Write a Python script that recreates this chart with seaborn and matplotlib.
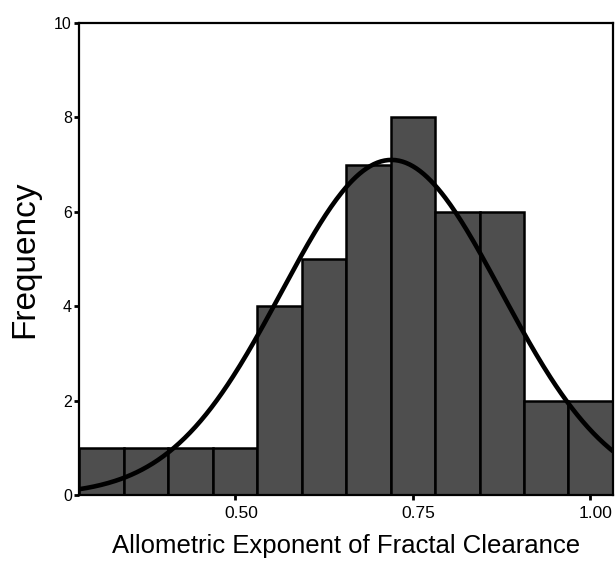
import numpy as np
import pandas as pd
import matplotlib
matplotlib.use("Agg")
import matplotlib.pyplot as plt
import matplotlib.transforms as mtransforms
import seaborn as sns

# Данные гистограммы
bin_start = 0.28
bin_width = 0.0627
counts = [1, 1, 1, 1, 4, 5, 7, 8, 6, 6, 2, 2]

# Параметры нормальной кривой
fit_mean = 0.72
fit_sd = 0.155

x_ticks = [0.50, 0.75, 1.00]
x_tick_labels = ["0.50", "0.75", "1.00"]
y_ticks = [0, 2, 4, 6, 8, 10]

edges = bin_start + bin_width * np.arange(len(counts) + 1)
centers = (edges[:-1] + edges[1:]) / 2
df = pd.DataFrame({"x": centers, "n": counts})

sns.set_style("white")
plt.rcParams['font.family'] = ['Liberation Sans', 'DejaVu Sans']
plt.rcParams['text.color'] = 'black'
plt.rcParams['axes.labelcolor'] = 'black'
plt.rcParams['xtick.color'] = 'black'
plt.rcParams['ytick.color'] = 'black'

fig = plt.figure(figsize=(6.16, 5.62), dpi=100)
ax = fig.add_axes([0.129, 0.119, 0.866, 0.840])

sns.histplot(data=df, x="x", weights="n", bins=edges.tolist(), ax=ax,
             color="#4e4e4e", edgecolor="black", linewidth=1.8, alpha=1)

# Нормальная кривая
xs = np.linspace(edges[0], edges[-1], 300)
total = sum(counts)
ys = total * bin_width / (fit_sd * np.sqrt(2 * np.pi)) * np.exp(-(xs - fit_mean) ** 2 / (2 * fit_sd ** 2))
sns.lineplot(x=xs, y=ys, ax=ax, color="black", linewidth=3.3)

ax.set_xlim(edges[0], edges[-1])
ax.set_ylim(0, 10)
ax.set_xticks(x_ticks)
ax.set_xticklabels(x_tick_labels, fontsize=12.5)
ax.set_yticks(y_ticks)
ax.set_yticklabels([str(v) for v in y_ticks], fontsize=11.5)
ax.tick_params(axis="both", direction="out", length=3.5, width=2, pad=2,
               color="black", labelcolor="black", bottom=True, left=True)
ax.tick_params(axis="x", pad=4)

offset = mtransforms.ScaledTranslation(6 / 100, 0, fig.dpi_scale_trans)
for lbl in ax.get_xticklabels():
    lbl.set_transform(lbl.get_transform() + offset)

for sp in ax.spines.values():
    sp.set_visible(True)
    sp.set_color("black")
    sp.set_linewidth(1.6)

ax.set_xlabel("Allometric Exponent of Fractal Clearance", fontsize=18.5, labelpad=10)
ax.set_ylabel("Frequency", fontsize=24, labelpad=10)

fig.savefig("out.png", dpi=100)
